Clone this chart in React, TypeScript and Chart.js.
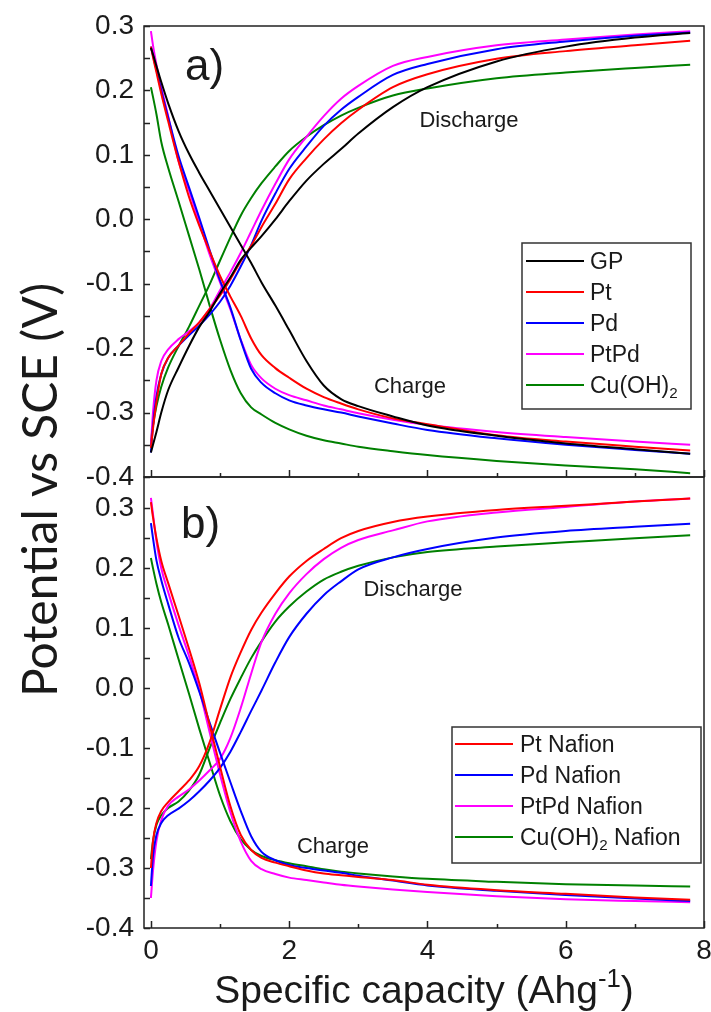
import { useEffect, useRef } from "react";
import { Chart, registerables } from "chart.js";

Chart.register(...registerables);

// ---------- data ----------
const capacity = [0, 0.03, 0.08, 0.15, 0.25, 0.4, 0.55, 0.7, 0.85, 1.0, 1.15, 1.3, 1.45, 1.6, 1.8, 2.0, 2.25, 2.5, 2.75, 3.0, 3.5, 4.0, 5.0, 6.0, 7.0, 7.8];

// Panel a)
const gpCharge = [0.266, 0.256, 0.238, 0.213, 0.18, 0.137, 0.102, 0.072, 0.044, 0.016, -0.012, -0.04, -0.068, -0.098, -0.134, -0.172, -0.22, -0.258, -0.279, -0.29, -0.306, -0.32, -0.336, -0.348, -0.357, -0.364];
const gpDischarge = [-0.362, -0.35, -0.33, -0.3, -0.265, -0.23, -0.197, -0.167, -0.143, -0.115, -0.09, -0.063, -0.044, -0.026, 0.0, 0.028, 0.06, 0.086, 0.109, 0.133, 0.174, 0.205, 0.245, 0.268, 0.282, 0.289];
const ptCharge = [0.268, 0.252, 0.228, 0.195, 0.152, 0.09, 0.035, -0.01, -0.05, -0.088, -0.12, -0.15, -0.185, -0.211, -0.231, -0.246, -0.263, -0.276, -0.286, -0.295, -0.309, -0.318, -0.335, -0.345, -0.353, -0.359];
const ptDischarge = [-0.355, -0.325, -0.283, -0.24, -0.215, -0.196, -0.177, -0.16, -0.139, -0.118, -0.093, -0.065, -0.041, -0.012, 0.024, 0.062, 0.095, 0.124, 0.149, 0.17, 0.205, 0.225, 0.249, 0.261, 0.27, 0.277];
const pdCharge = [0.268, 0.254, 0.232, 0.2, 0.158, 0.098, 0.05, 0.002, -0.048, -0.095, -0.137, -0.188, -0.232, -0.254, -0.27, -0.281, -0.289, -0.295, -0.3, -0.306, -0.317, -0.327, -0.34, -0.35, -0.358, -0.364];
const pdDischarge = [-0.362, -0.32, -0.275, -0.24, -0.215, -0.196, -0.18, -0.165, -0.148, -0.128, -0.103, -0.073, -0.04, -0.002, 0.04, 0.078, 0.113, 0.145, 0.17, 0.19, 0.224, 0.241, 0.264, 0.276, 0.285, 0.29];
const ptpdCharge = [0.292, 0.27, 0.24, 0.205, 0.16, 0.09, 0.045, -0.005, -0.055, -0.098, -0.14, -0.187, -0.226, -0.247, -0.263, -0.273, -0.281, -0.289, -0.295, -0.301, -0.311, -0.319, -0.33, -0.338, -0.345, -0.35];
const ptpdDischarge = [-0.35, -0.3, -0.25, -0.22, -0.202, -0.186, -0.174, -0.16, -0.139, -0.11, -0.082, -0.052, -0.019, 0.014, 0.055, 0.093, 0.128, 0.16, 0.187, 0.207, 0.238, 0.252, 0.27, 0.279, 0.287, 0.292];
const cuCharge = [0.205, 0.19, 0.163, 0.12, 0.08, 0.028, -0.025, -0.078, -0.134, -0.187, -0.234, -0.27, -0.292, -0.303, -0.316, -0.326, -0.336, -0.343, -0.348, -0.353, -0.36, -0.366, -0.375, -0.382, -0.388, -0.394];
const cuDischarge = [-0.345, -0.32, -0.29, -0.26, -0.23, -0.197, -0.167, -0.134, -0.101, -0.064, -0.028, 0.006, 0.033, 0.056, 0.082, 0.106, 0.128, 0.146, 0.161, 0.173, 0.192, 0.203, 0.219, 0.228, 0.235, 0.24];

// Panel b)
const ptNafionCharge = [0.31, 0.285, 0.25, 0.212, 0.175, 0.121, 0.066, 0.008, -0.062, -0.131, -0.197, -0.245, -0.27, -0.283, -0.291, -0.297, -0.304, -0.309, -0.312, -0.315, -0.32, -0.328, -0.337, -0.343, -0.349, -0.353];
const ptNafionDischarge = [-0.3, -0.255, -0.225, -0.205, -0.19, -0.172, -0.154, -0.13, -0.09, -0.035, 0.018, 0.06, 0.097, 0.126, 0.158, 0.186, 0.212, 0.232, 0.25, 0.262, 0.277, 0.286, 0.297, 0.304, 0.311, 0.316];
const pdNafionCharge = [0.275, 0.25, 0.213, 0.18, 0.14, 0.084, 0.042, -0.006, -0.058, -0.108, -0.157, -0.205, -0.247, -0.273, -0.287, -0.295, -0.3, -0.304, -0.308, -0.313, -0.321, -0.329, -0.338, -0.345, -0.351, -0.355];
const pdNafionDischarge = [-0.33, -0.28, -0.245, -0.225, -0.212, -0.201, -0.188, -0.172, -0.154, -0.133, -0.106, -0.073, -0.038, -0.004, 0.043, 0.085, 0.124, 0.155, 0.178, 0.198, 0.218, 0.232, 0.251, 0.262, 0.269, 0.274];
const ptpdNafionCharge = [0.317, 0.29, 0.245, 0.2, 0.16, 0.105, 0.054, -0.003, -0.074, -0.144, -0.207, -0.256, -0.288, -0.302, -0.31, -0.316, -0.32, -0.324, -0.328, -0.331, -0.336, -0.34, -0.347, -0.352, -0.355, -0.357];
const ptpdNafionDischarge = [-0.35, -0.305, -0.255, -0.22, -0.196, -0.181, -0.169, -0.154, -0.137, -0.118, -0.083, -0.033, 0.024, 0.077, 0.124, 0.158, 0.19, 0.215, 0.234, 0.247, 0.263, 0.278, 0.293, 0.302, 0.311, 0.316];
const cuNafionCharge = [0.217, 0.2, 0.174, 0.143, 0.106, 0.048, -0.009, -0.068, -0.124, -0.179, -0.222, -0.252, -0.27, -0.28, -0.287, -0.292, -0.297, -0.302, -0.306, -0.309, -0.314, -0.318, -0.323, -0.327, -0.329, -0.331];
const cuNafionDischarge = [-0.285, -0.255, -0.228, -0.212, -0.2, -0.189, -0.171, -0.144, -0.1, -0.058, -0.018, 0.017, 0.05, 0.078, 0.111, 0.136, 0.161, 0.181, 0.194, 0.204, 0.218, 0.227, 0.236, 0.243, 0.25, 0.255];

const panelANames = ["GP", "Pt", "Pd", "PtPd", "Cu(OH)₂"];
const panelBNames = ["Pt Nafion", "Pd Nafion", "PtPd Nafion", "Cu(OH)₂ Nafion"];
const panelLabels = ["a)", "b)"];
const curveLabels = ["Discharge", "Charge"];

const capacityTicks = [0, 2, 4, 6, 8];
const capacityMarks = [0, 1, 2, 3, 4, 5, 6, 7, 8];
const potentialTicks = [-0.4, -0.3, -0.2, -0.1, 0.0, 0.1, 0.2, 0.3];
const potentialMarks = [-0.4, -0.35, -0.3, -0.25, -0.2, -0.15, -0.1, -0.05, 0.0, 0.05, 0.1, 0.15, 0.2, 0.25, 0.3];

const xTitle = "Specific capacity (Ahg⁻¹)";
const yTitle = "Potential vs SCE (V)";

// ---------- styling ----------
const SANS = "'Liberation Sans', Arial, sans-serif";
const TEXT = "#1a1a1a";
const colA = ["#000000", "#ff0000", "#0000ff", "#ff00ff", "#008000"];
const colB = ["#ff0000", "#0000ff", "#ff00ff", "#008000"];

const seriesA = [
  [gpCharge, gpDischarge],
  [ptCharge, ptDischarge],
  [pdCharge, pdDischarge],
  [ptpdCharge, ptpdDischarge],
  [cuCharge, cuDischarge],
];
const seriesB = [
  [ptNafionCharge, ptNafionDischarge],
  [pdNafionCharge, pdNafionDischarge],
  [ptpdNafionCharge, ptpdNafionDischarge],
  [cuNafionCharge, cuNafionDischarge],
];

function curve(values: number[], label: string, color: string, yAxisID: string) {
  return {
    label,
    data: capacity.map((c, i) => ({ x: c, y: values[i] })),
    borderColor: color,
    backgroundColor: color,
    borderWidth: 2,
    pointRadius: 0,
    cubicInterpolationMode: "monotone" as const,
    fill: false,
    xAxisID: "x",
    yAxisID,
  };
}

// draw text with sub/superscript handling (₂ -> subscript 2, ⁻¹ -> superscript -1)
function richParts(text: string) {
  const parts: { t: string; mode: number }[] = [];
  for (const ch of text) {
    let mode = 0;
    let t = ch;
    if (ch === "₂") { mode = -1; t = "2"; }
    else if (ch === "⁻") { mode = 1; t = "-"; }
    else if (ch === "¹") { mode = 1; t = "1"; }
    const last = parts[parts.length - 1];
    if (last && last.mode === mode) last.t += t;
    else parts.push({ t, mode });
  }
  return parts;
}
function drawRich(ctx: CanvasRenderingContext2D, text: string, x: number, y: number, size: number, family: string, align: "left" | "center") {
  const parts = richParts(text);
  const small = size * 0.66;
  const widths = parts.map((p) => {
    ctx.font = `${p.mode === 0 ? size : small}px ${family}`;
    return ctx.measureText(p.t).width;
  });
  const total = widths.reduce((a, b) => a + b, 0);
  let cx = align === "center" ? x - total / 2 : x;
  ctx.textAlign = "left";
  ctx.textBaseline = "alphabetic";
  parts.forEach((p, i) => {
    ctx.font = `${p.mode === 0 ? size : small}px ${family}`;
    const dy = p.mode === 1 ? -size * 0.4 : p.mode === -1 ? size * 0.22 : 0;
    ctx.fillText(p.t, cx, y + dy);
    cx += widths[i];
  });
}

const decorPlugin = {
  id: "decor",
  afterDatasetsDraw(chart: any) {
    const ctx: CanvasRenderingContext2D = chart.ctx;
    const xs = chart.scales.x;
    const ya = chart.scales.yA;
    const yb = chart.scales.yB;
    const { left, right } = chart.chartArea;
    ctx.save();
    ctx.strokeStyle = "#222";
    ctx.lineWidth = 1.5;
    for (const ys of [ya, yb]) {
      ctx.strokeRect(left, ys.top, right - left, ys.bottom - ys.top);
      ctx.beginPath();
      for (const v of potentialMarks) {
        if (v > ys.max + 1e-9 || v < ys.min - 1e-9) continue;
        const py = Math.round(ys.getPixelForValue(v)) + 0.5;
        ctx.moveTo(left, py);
        ctx.lineTo(left + 6, py);
      }
      for (const c of capacityMarks) {
        const px = Math.round(xs.getPixelForValue(c)) + 0.5;
        const len = c % 2 === 0 ? 7 : 4;
        ctx.moveTo(px, ys.bottom);
        ctx.lineTo(px, ys.bottom - len);
      }
      ctx.stroke();
    }

    ctx.fillStyle = TEXT;
    // panel labels
    drawRich(ctx, panelLabels[0], 185, 80, 44, SANS, "left");
    drawRich(ctx, panelLabels[1], 181, 538, 44, SANS, "left");
    // curve annotations
    drawRich(ctx, curveLabels[0], 469, 127, 22, SANS, "center");
    drawRich(ctx, curveLabels[1], 410, 393, 22, SANS, "center");
    drawRich(ctx, curveLabels[0], 413, 596, 22, SANS, "center");
    drawRich(ctx, curveLabels[1], 333, 853, 22, SANS, "center");

    // legends
    const drawLegend = (names: string[], colors: string[], bx: number, by: number, bw: number, bh: number, lx0: number, lx1: number, tx: number, y0: number, step: number) => {
      ctx.fillStyle = "#fff";
      ctx.fillRect(bx, by, bw, bh);
      ctx.strokeStyle = "#333";
      ctx.lineWidth = 1.5;
      ctx.strokeRect(bx, by, bw, bh);
      names.forEach((n, i) => {
        const ly = y0 + i * step;
        ctx.strokeStyle = colors[i];
        ctx.lineWidth = 2;
        ctx.beginPath();
        ctx.moveTo(lx0, ly);
        ctx.lineTo(lx1, ly);
        ctx.stroke();
        ctx.fillStyle = TEXT;
        drawRich(ctx, n, tx, ly + 8, 23, SANS, "left");
      });
    };
    drawLegend(panelANames, colA, 522, 243, 169, 166, 526, 584, 590, 261, 31);
    drawLegend(panelBNames, colB, 452, 727, 249, 136, 455, 513, 520, 744, 31);

    // axis titles
    ctx.fillStyle = TEXT;
    drawRich(ctx, xTitle, (left + right) / 2, 1003, 39, SANS, "center");

    ctx.save();
    const yFamily = "Lato, 'Open Sans', sans-serif";
    ctx.font = `48px ${yFamily}`;
    const w = ctx.measureText(yTitle).width;
    const size = 48 * (414 / w);
    ctx.font = `${size}px ${yFamily}`;
    ctx.translate(42, 490);
    ctx.rotate(-Math.PI / 2);
    ctx.textAlign = "center";
    ctx.textBaseline = "middle";
    ctx.fillText(yTitle, 0, 0);
    ctx.restore();

    ctx.restore();
  },
};

export default function App() {
  const ref = useRef<HTMLCanvasElement | null>(null);
  useEffect(() => {
    if (!ref.current) return;
    const datasets: any[] = [];
    seriesA.forEach(([ch, dis], i) => {
      datasets.push(curve(ch, panelANames[i], colA[i], "yA"));
      datasets.push(curve(dis, panelANames[i], colA[i], "yA"));
    });
    seriesB.forEach(([ch, dis], i) => {
      datasets.push(curve(ch, panelBNames[i], colB[i], "yB"));
      datasets.push(curve(dis, panelBNames[i], colB[i], "yB"));
    });
    const yCommon = (min: number, max: number, weight: number) => ({
      type: "linear" as const,
      position: "left" as const,
      stack: "potential",
      stackWeight: 1,
      weight,
      min,
      max,
      grid: { display: false, drawTicks: false },
      border: { display: false },
      afterBuildTicks: (s: any) => {
        s.ticks = potentialTicks.map((v) => ({ value: v }));
      },
      afterFit: (s: any) => {
        s.width = 144;
        s.paddingTop = 0;
        s.paddingBottom = 0;
      },
      ticks: {
        font: { family: SANS, size: 28 },
        color: TEXT,
        padding: 10,
        autoSkip: false,
        callback: (v: any) => Number(v).toFixed(1),
      },
    });
    const chart = new Chart(ref.current, {
      type: "line",
      data: { datasets },
      plugins: [decorPlugin],
      options: {
        animation: false,
        responsive: false,
        maintainAspectRatio: false,
        devicePixelRatio: 1,
        layout: { padding: { top: 26, right: 7, bottom: 0, left: 0 } },
        plugins: { legend: { display: false }, tooltip: { enabled: false } },
        scales: {
          x: {
            type: "linear",
            position: "bottom",
            min: -0.1,
            max: 8,
            grid: { display: false, drawTicks: false },
            border: { display: false },
            afterBuildTicks: (s: any) => {
              s.ticks = capacityTicks.map((v) => ({ value: v }));
            },
            afterFit: (s: any) => {
              s.height = 84;
              s.paddingLeft = 0;
              s.paddingRight = 0;
            },
            ticks: {
              font: { family: SANS, size: 28 },
              color: TEXT,
              padding: 6,
              maxRotation: 0,
              autoSkip: false,
              callback: (v: any) => String(v),
            },
          },
          yA: yCommon(-0.4, 0.3, 2),
          yB: yCommon(-0.4, 0.352, 1),
        },
      } as any,
    });
    return () => chart.destroy();
  }, []);
  return (
    <div style={{ position: "absolute", left: 0, top: 0, width: 711, height: 1012, background: "#fff" }}>
      <canvas ref={ref} width={711} height={1012} style={{ width: 711, height: 1012, display: "block" }} />
    </div>
  );
}
